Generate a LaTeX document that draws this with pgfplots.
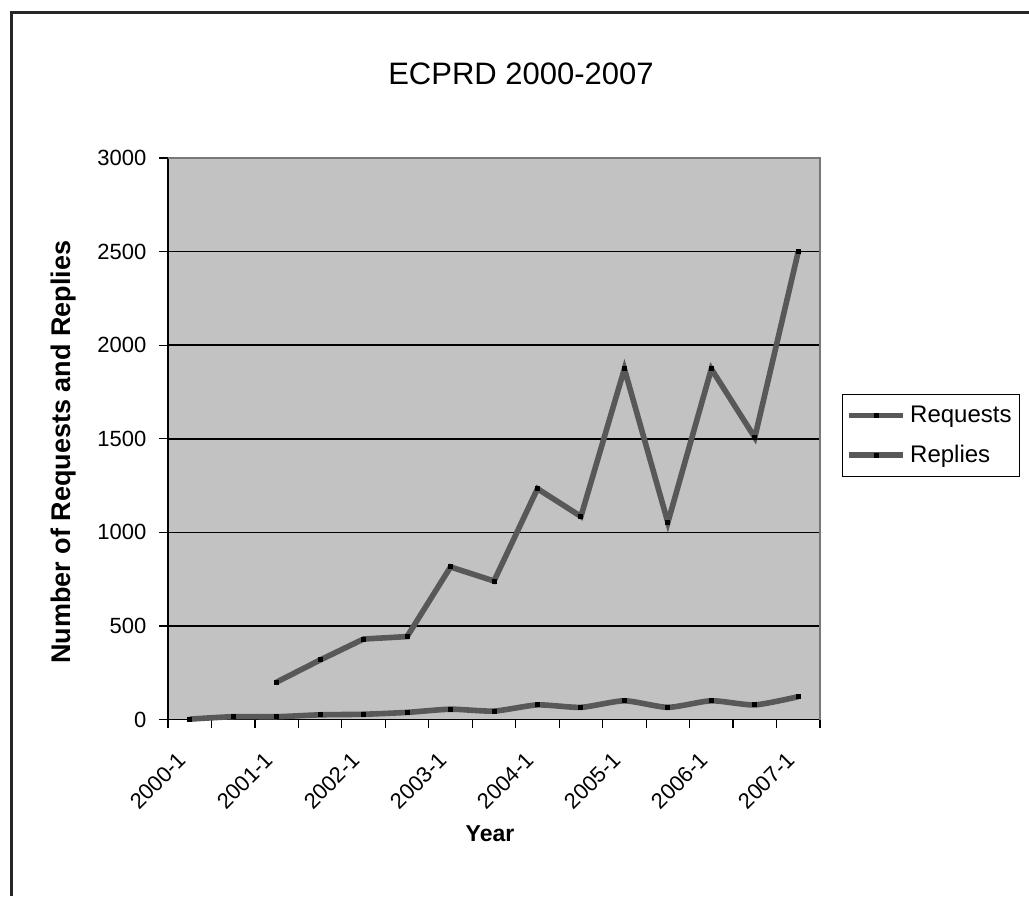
\documentclass[border=0pt]{standalone}
\usepackage{pgfplots}
\pgfplotsset{compat=1.18}
\usepackage{fontspec}
\setmainfont{Liberation Sans}

\definecolor{plotgray}{RGB}{194,194,194}
\definecolor{linegray}{RGB}{88,88,88}
\definecolor{framegray}{RGB}{120,120,120}

% half-year categories 2000-1 ... 2007-1 as 0..14
\pgfplotstableread{
x  y
2  200
3  318
4  430
5  443
6  815
7  740
8  1233
9  1085
10 1873
11 1053
12 1873
13 1507
14 2500
}\requests

\pgfplotstableread{
x  y
0  2
1  15
2  15
3  25
4  28
5  38
6  55
7  45
8  78
9  65
10 100
11 65
12 100
13 78
14 122
}\replies

\begin{document}
\begin{tikzpicture}
\path[use as bounding box] (0,0) rectangle (514.5pt,448pt);
% outer chart frame (only top and left edges visible)
\draw[line width=1.5pt, black!85] (5.5pt,0) -- (5.5pt,441.5pt) -- (514.5pt,441.5pt);

\node[font=\fontsize{15.5}{18}\selectfont, anchor=base] at (260.5pt,405.5pt) {ECPRD 2000-2007};
\node[font=\fontsize{13.5}{15}\selectfont\bfseries, rotate=90] at (32pt,222pt) {Number of Requests and Replies};
\node[font=\fontsize{11.5}{13}\selectfont\bfseries] at (245pt,31pt) {Year};

\begin{axis}[
    at={(84pt,88.25pt)}, anchor=south west,
    scale only axis,
    width=326pt, height=280.75pt,
    xmin=-0.5, xmax=14.5,
    ymin=0, ymax=3000,
    axis x line*=bottom, axis y line*=left,
    axis line style={-, black, line width=0.7pt},
    axis background/.style={fill=plotgray},
    xtick={0,2,...,14},
    xticklabels={2000-1,2001-1,2002-1,2003-1,2004-1,2005-1,2006-1,2007-1},
    minor xtick={-0.5,0.5,...,14.5},
    major x tick style={draw=none},
    minor tick length=4pt,
    major tick length=4.5pt,
    tick align=outside,
    tick style={black, line width=0.6pt},
    ytick={0,500,...,3000},
    ymajorgrids,
    major grid style={black, line width=0.75pt},
    /pgf/number format/1000 sep={},
    /pgf/number format/assume math mode=true,
    tick label style={font=\fontsize{11}{13}\selectfont},
    xticklabel style={xshift=-6.5pt, yshift=-11pt, rotate=45, anchor=north east, inner sep=0pt},
    yticklabel style={xshift=-2.8pt},
    clip=false,
    legend style={
      at={(1.0337,0.5058)}, anchor=west,
      draw=black, line width=0.6pt, fill=white,
      font=\fontsize{12}{14}\selectfont,
      inner xsep=2pt, inner ysep=3.5pt, row sep=6pt,
      /tikz/every even column/.append style={column sep=0pt},
    },
    legend cell align=left,
    legend image code/.code={
      \draw[mark repeat=2, mark phase=2, #1] plot coordinates {(0pt,0pt) (13.5pt,0pt) (27pt,0pt)};
    },
  ]
  \addplot[color=linegray, line width=2.8pt, mark=square*, mark size=1pt,
    mark options={fill=black, draw=black, line width=0pt}]
    table {\requests};
  \addlegendentry{Requests}
  \addplot[color=linegray, line width=2.8pt, smooth, tension=0.4, mark=square*, mark size=1pt,
    mark options={fill=black, draw=black, line width=0pt}]
    table {\replies};
  \addlegendentry{Replies}
  \draw[framegray, line width=0.8pt] (rel axis cs:0,1) -- (rel axis cs:1,1) -- (rel axis cs:1,0);
\end{axis}
\end{tikzpicture}
\end{document}
